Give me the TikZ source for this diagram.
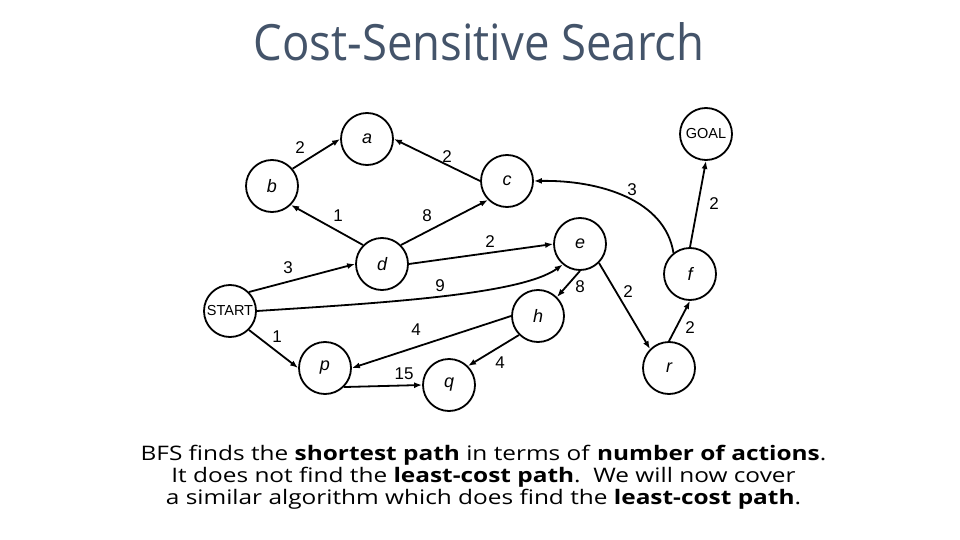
\documentclass[tikz,border=0pt]{standalone}
\usepackage{fontspec}
\setmainfont{Open Sans}
\newfontfamily\arialf{Liberation Sans}
\usetikzlibrary{arrows.meta}
\definecolor{titlecol}{HTML}{44546A}
\begin{document}
\begin{tikzpicture}[x=1pt,y=-1pt,
  st/.style={circle,draw,line width=1.8pt,minimum size=52pt,inner sep=0pt,font=\arialf\itshape\fontsize{18}{18}\selectfont},
  sm/.style={font=\arialf\fontsize{14.5}{14.5}\selectfont},
  lbl/.style={font=\arialf\fontsize{17}{17}\selectfont,inner sep=0pt},
  ed/.style={line width=1.8pt,-{Latex[length=8pt,width=6pt]}}]
\useasboundingbox (0,0) rectangle (960,540);
\node[text=titlecol,inner sep=0pt] (title) at (479,42) {\scalebox{0.91}[1]{\fontsize{50}{56}\selectfont Cost-Sensitive Search}};
% states
\node[st] (a) at (367,139) {a};
\node[st] (b) at (272,186) {b};
\node[st] (c) at (507,181) {c};
\node[st,sm] (goal) at (706,134) {GOAL};
\node[st] (d) at (382,264) {d};
\node[st,sm] (start) at (230,311) {START};
\node[st] (p) at (325,368) {p};
\node[st] (q) at (449,385) {q};
\node[st] (e) at (580,244) {e};
\node[st] (h) at (538,316) {h};
\node[st] (f) at (690,274) {f};
\node[st] (r) at (669,368) {r};
% edges
\draw[ed] (b.40) -- (a.west);
\draw[ed] (c.west) -- (a.east);
\draw[ed] (d.135) -- (b.-45);
\draw[ed] (d.45) -- (c.-135);
\draw[ed] (start.45) -- (d.west);
\draw[ed] (d.east) -- (e.west);
\draw[ed] (start.east) .. controls (380,303) and (520,295) .. (e.230);
\draw[ed] (start.-45) -- (p.west);
\draw[ed] (h.west) -- (p.east);
\draw[ed] (p.-45) -- (q.west);
\draw[ed] (h.-135) -- (q.45);
\draw[ed] (e.south) -- (h.45);
\draw[ed] (e.-45) -- (r.135);
\draw[ed] (r.north) -- (f.south);
\draw[ed] (f.north) -- (goal.south);
\draw[ed] (f.128) .. controls (665,200) and (600,180) .. (c.east);
% labels
\node[lbl] (l1) at (300,148) {2};
\node[lbl] (l2) at (447,157) {2};
\node[lbl] (l3) at (338,216) {1};
\node[lbl] (l4) at (427,216) {8};
\node[lbl] (l5) at (288,268) {3};
\node[lbl] (l6) at (490,242) {2};
\node[lbl] (l7) at (440,286) {9};
\node[lbl] (l8) at (277,337) {1};
\node[lbl] (l9) at (416,330) {4};
\node[lbl] (l10) at (404,374) {15};
\node[lbl] (l11) at (500,363) {4};
\node[lbl] (l12) at (580,287) {8};
\node[lbl] (l13) at (628,292) {2};
\node[lbl] (l14) at (690,328) {2};
\node[lbl] (l15) at (714,204) {2};
\node[lbl] (l16) at (632,190) {3};
% text
\node[inner sep=0pt] (body) at (483.5,478)
 {\scalebox{1.22}[1]{\fontsize{20}{22}\selectfont\begin{tabular}{@{}c@{}}
  BFS finds the \textbf{shortest path} in terms of \textbf{number of actions}.\\
  It does not find the \textbf{least-cost path}.\ \ We will now cover\\
  a similar algorithm which does find the \textbf{least-cost path}.\end{tabular}}};
\end{tikzpicture}
\end{document}
